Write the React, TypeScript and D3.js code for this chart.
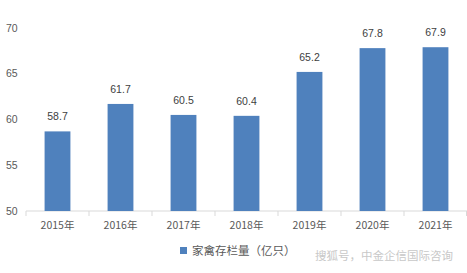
import React from "react";
import * as d3 from "d3";

const categories = ["2015年", "2016年", "2017年", "2018年", "2019年", "2020年", "2021年"];
const values = [58.7, 61.7, 60.5, 60.4, 65.2, 67.8, 67.9];
const yTicks = [50, 55, 60, 65, 70];
const seriesName = "家禽存栏量（亿只）";
const sourceText = "搜狐号，中金企信国际咨询";

export default function App() {
  const W = 467, H = 273;
  const left = 26, right = 467, top = 28, bottom = 211;
  const x = d3.scaleBand<string>().domain(categories).range([left, right]).paddingInner(0.59).paddingOuter(0.295);
  const xb = d3.scaleBand<string>().domain(categories).range([left, right]);
  const y = d3.scaleLinear().domain([50, 70]).range([bottom, top]);
  const font = "'Liberation Sans', Arial, sans-serif";
  const cjk = "'Noto Sans CJK SC', sans-serif";
  return (
    <svg width={W} height={H} style={{ position: "absolute", left: 0, top: 0, background: "#fff" }}>
      {yTicks.map(t => (
        <text key={t} x={6} y={y(t)} dy="0.35em" fontSize={10.5} fill="#595959" fontFamily={font}>{t}</text>
      ))}
      <line x1={left} x2={right} y1={bottom} y2={bottom} stroke="#d9d9d9" strokeWidth={1} />
      {categories.map(c => (
        <line key={c} x1={xb(c)!} x2={xb(c)!} y1={bottom} y2={bottom + 5} stroke="#d9d9d9" />
      ))}
      <line x1={right - 0.5} x2={right - 0.5} y1={bottom} y2={bottom + 5} stroke="#d9d9d9" />
      {categories.map((c, i) => (
        <g key={c}>
          <rect x={x(c)!} y={y(values[i])} width={x.bandwidth()} height={bottom - y(values[i])} fill="#4f81bd" />
          <text x={x(c)! + x.bandwidth() / 2} y={y(values[i]) - 11} textAnchor="middle" fontSize={10.5} fill="#404040" fontFamily={font}>{values[i].toFixed(1)}</text>
          <text x={xb(c)! + xb.bandwidth() / 2} y={225} dy="0.35em" textAnchor="middle" fontSize={10.5} fill="#595959" fontFamily={cjk}>{c}</text>
        </g>
      ))}
      <rect x={180} y={247} width={7} height={7} fill="#4f81bd" />
      <text x={192} y={251} dy="0.35em" fontSize={11.5} fill="#595959" fontFamily={cjk}>{seriesName}</text>
      <text x={315} y={256} dy="0.35em" fontSize={11.5} fill="#c8c8c8" fontFamily={cjk}>{sourceText}</text>
    </svg>
  );
}
